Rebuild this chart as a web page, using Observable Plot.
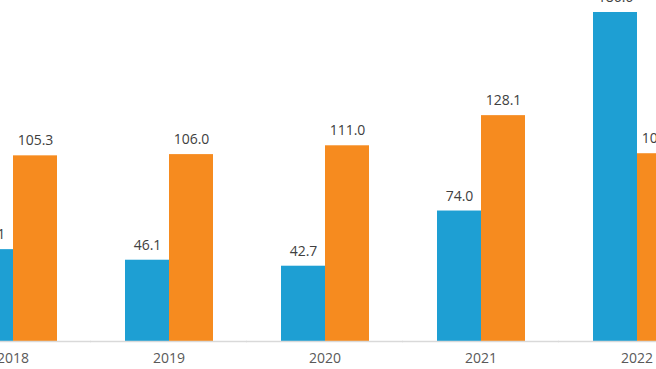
<!DOCTYPE html>
<html>
<head>
<meta charset="utf-8">
<script src="https://cdn.jsdelivr.net/npm/d3@7"></script>
<script src="https://cdn.jsdelivr.net/npm/@observablehq/plot@0.6"></script>
<style>
  html, body { margin: 0; padding: 0; background: #fff; }
  #wrap { width: 656px; height: 369px; overflow: hidden; position: relative; }
  #wrap svg { position: absolute; left: -32.5px; top: 0; max-width: none; width: 713px; height: 369px; overflow: visible; }
</style>
</head>
<body>
<div id="wrap"></div>
<script>
const years = ["2018", "2019", "2020", "2021", "2022"];
const seriesNames = ["Series 1", "Series 2"];
const series1 = [52.1, 46.1, 42.7, 74.0, 186.6];
const series2 = [105.3, 106.0, 111.0, 128.1, 106.5];
const colors = ["#1E9FD3", "#F68B1F"];

const data = [];
years.forEach((y, i) => {
  data.push({year: y, series: seriesNames[0], value: series1[i]});
  data.push({year: y, series: seriesNames[1], value: series2[i]});
});

const chart = Plot.plot({
  width: 713,
  height: 369,
  marginLeft: 0,
  marginRight: 0,
  marginTop: 6,
  marginBottom: 28,
  style: {fontFamily: "'Open Sans', sans-serif", fontSize: "14px", color: "#595959", background: "transparent", overflow: "visible"},
  fx: {domain: years, paddingInner: 0.43, paddingOuter: 0, label: null, axis: "bottom", tickSize: 0, tickPadding: 12},
  x: {domain: seriesNames, padding: 0, axis: null},
  y: {domain: [0, 190], axis: null},
  color: {domain: seriesNames, range: colors},
  marks: [
    Plot.barY(data, {fx: "year", x: "series", y: "value", fill: "series"}),
    Plot.ruleY([0], {stroke: "#d9d9d9", strokeWidth: 1.5, insetLeft: -34, insetRight: -34}),
    Plot.text(data, {fx: "year", x: "series", y: "value", text: d => d3.format(".1f")(d.value), dy: -15, fill: "#404040", fontSize: 14})
  ]
});
document.getElementById("wrap").appendChild(chart);
</script>
</body>
</html>
